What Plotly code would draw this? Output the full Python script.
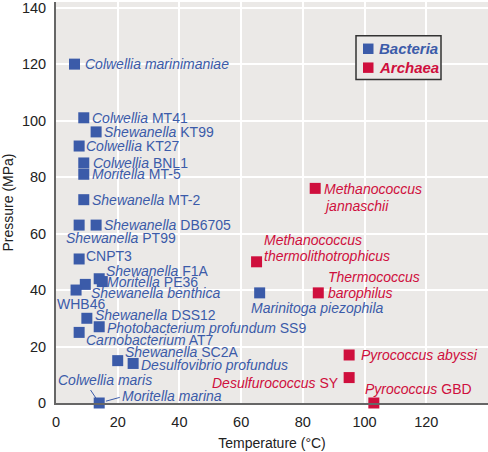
import plotly.graph_objects as go

# ---- data ----
bact_temp = [6, 9, 13, 7.5, 9, 9, 9, 7.5, 13, 7.5, 14, 15, 9.5, 6.5, 10, 14, 7.5, 20, 25, 14, 66]
bact_pres = [120, 101, 96, 91, 85, 81, 72, 63, 63, 51, 44, 43, 42, 40, 30, 27, 25, 15, 14, 0, 39]
bact_labels = [
    "<i>Colwellia marinimaniae</i>",
    "<i>Colwellia</i> MT41",
    "<i>Shewanella</i> KT99",
    "<i>Colwellia</i> KT27",
    "<i>Colwellia</i> BNL1",
    "<i>Moritella</i> MT-5",
    "<i>Shewanella</i> MT-2",
    "<i>Shewanella</i> PT99",
    "<i>Shewanella</i> DB6705",
    "CNPT3",
    "<i>Shewanella</i> F1A",
    "<i>Moritella</i> PE36",
    "<i>Shewanella benthica</i>",
    "WHB46",
    "<i>Shewanella</i> DSS12",
    "<i>Photobacterium profundum</i> SS9",
    "<i>Carnobacterium</i> AT7",
    "<i>Shewanella</i> SC2A",
    "<i>Desulfovibrio profundus</i>",
    "<i>Moritella marina</i>",
    "<i>Marinitoga piezophila</i>",
]
extra_label = "<i>Colwellia maris</i>"   # shares the point (14, 0)

arch_temp = [84, 65, 85, 95, 95, 103]
arch_pres = [76, 50, 39, 17, 9, 0]
arch_labels = [
    ["<i>Methanococcus</i>", "<i>jannaschii</i>"],
    ["<i>Methanococcus</i>", "<i>thermolithotrophicus</i>"],
    ["<i>Thermococcus</i>", "<i>barophilus</i>"],
    ["<i>Pyrococcus abyssi</i>"],
    ["<i>Desulfurococcus</i> SY"],
    ["<i>Pyrococcus</i> GBD"],
]
legend_names = ["Bacteria", "Archaea"]

# label offsets in px from marker centre: (dx, dy of first line, xanchor)
bact_off = [
    (10, 0, "left"), (8, 0, "left"), (8, 0, "left"), (7, 0, "left"), (9, 0, "left"),
    (8, 0, "left"), (8, 0, "left"), (-13, -13, "left"), (8, 0, "left"), (7, 3, "left"),
    (7, 8, "left"), (5, 0, "left"), (6, -9, "left"), (-19, -14, "left"), (8, 3, "left"),
    (8, -1, "left"), (7, -8, "left"), (7, 9, "left"), (8, -2, "left"), (23, 7, "left"),
    (-9, -15, "left"),
]
arch_off = [
    (9, -1, "left"), (7, 22, "left"), (10, 16, "left"), (12, 0, "left"),
    (-10, -5, "right"), (-9, 14, "left"),
]
LINE_GAP = 16.5

BLUE = "#3b5ba9"
RED = "#cf0f3d"
BG = "#ebe9e7"
FONT = "Liberation Sans, Arial, sans-serif"
LFS = 14

fig = go.Figure()
fig.add_trace(go.Scatter(
    x=bact_temp, y=bact_pres, mode="markers",
    marker=dict(symbol="square", size=11, color=BLUE),
    name=legend_names[0], showlegend=False, cliponaxis=False,
))
fig.add_trace(go.Scatter(
    x=arch_temp, y=arch_pres, mode="markers",
    marker=dict(symbol="square", size=11, color=RED),
    name=legend_names[1], showlegend=False, cliponaxis=False,
))


def lab(x, y, text, dx, dy, xa, color):
    return dict(x=x, y=y, text=text, showarrow=False, xanchor=xa, yanchor="middle",
                xshift=dx, yshift=dy, font=dict(color=color, size=LFS, family=FONT),
                borderpad=0, borderwidth=0, align="left")


anns = []
for t, p, l, (dx, dy, xa) in zip(bact_temp, bact_pres, bact_labels, bact_off):
    anns.append(lab(t, p, l, dx, dy, xa, BLUE))
for t, p, lines, (dx, dy, xa) in zip(arch_temp, arch_pres, arch_labels, arch_off):
    for i, l in enumerate(lines):
        anns.append(lab(t, p, l, dx, dy - i * LINE_GAP, xa, RED))

# shared point (Colwellia maris / Moritella marina)
mt, mp = bact_temp[19], bact_pres[19]
anns.append(lab(mt, mp, extra_label, -41, 23, "left", BLUE))
anns.append(dict(x=mt, y=mp, text=" ", showarrow=True, arrowhead=0, arrowwidth=1,
                 arrowcolor=BLUE, ax=-10, ay=-15, standoff=3, font=dict(size=1)))
anns.append(dict(x=mt, y=mp, text=" ", showarrow=True, arrowhead=0, arrowwidth=1,
                 arrowcolor=BLUE, ax=22, ay=-6, standoff=7, font=dict(size=1)))

# ---- manual legend (paper coords) ----
L, B, PW, PH = 56, 49, 432, 403
def px(xp): return (xp - L) / PW
def py(yp): return (PH - yp) / PH

shapes = [dict(type="rect", xref="paper", yref="paper",
               x0=px(356), x1=px(441), y0=py(78), y1=py(34),
               line=dict(color="#333333", width=1.5), fillcolor=BG, layer="above")]
for name, col, yc in zip(legend_names, [BLUE, RED], [47, 66]):
    shapes.append(dict(type="rect", xref="paper", yref="paper",
                       x0=px(363), x1=px(373.5), y0=py(yc + 5.25), y1=py(yc - 5.25),
                       line=dict(width=0), fillcolor=col, layer="above"))
    anns.append(dict(xref="paper", yref="paper", x=px(379), y=py(yc), text=f"<b><i>{name}</i></b>",
                     showarrow=False, xanchor="left", yanchor="middle",
                     font=dict(color=col, size=15, family=FONT), borderpad=0, borderwidth=0))

fig.update_layout(
    width=488, height=452,
    margin=dict(l=L, r=0, t=0, b=B),
    paper_bgcolor="white", plot_bgcolor=BG,
    font=dict(family=FONT, color="#222222", size=14),
    annotations=anns, shapes=shapes,
    showlegend=False,
)
fig.update_xaxes(range=[0, 140], tickvals=[0, 20, 40, 60, 80, 100, 120],
                 showgrid=True, gridcolor="white", gridwidth=2, zeroline=False,
                 showline=True, linecolor="#666666", linewidth=2,
                 ticks="outside", ticklen=5, tickcolor="rgba(0,0,0,0)",
                 tickfont=dict(size=14.5),
                 title=dict(text="Temperature (°C)", font=dict(size=14), standoff=9))
fig.update_yaxes(range=[0, 142], tickvals=[0, 20, 40, 60, 80, 100, 120, 140],
                 showgrid=True, gridcolor="white", gridwidth=2, zeroline=False,
                 showline=True, linecolor="#666666", linewidth=2,
                 ticks="outside", ticklen=5, tickcolor="rgba(0,0,0,0)",
                 tickfont=dict(size=14.5), ticklabeloverflow="allow",
                 title=dict(text="Pressure (MPa)", font=dict(size=14), standoff=8))

fig.write_html("out.html")
